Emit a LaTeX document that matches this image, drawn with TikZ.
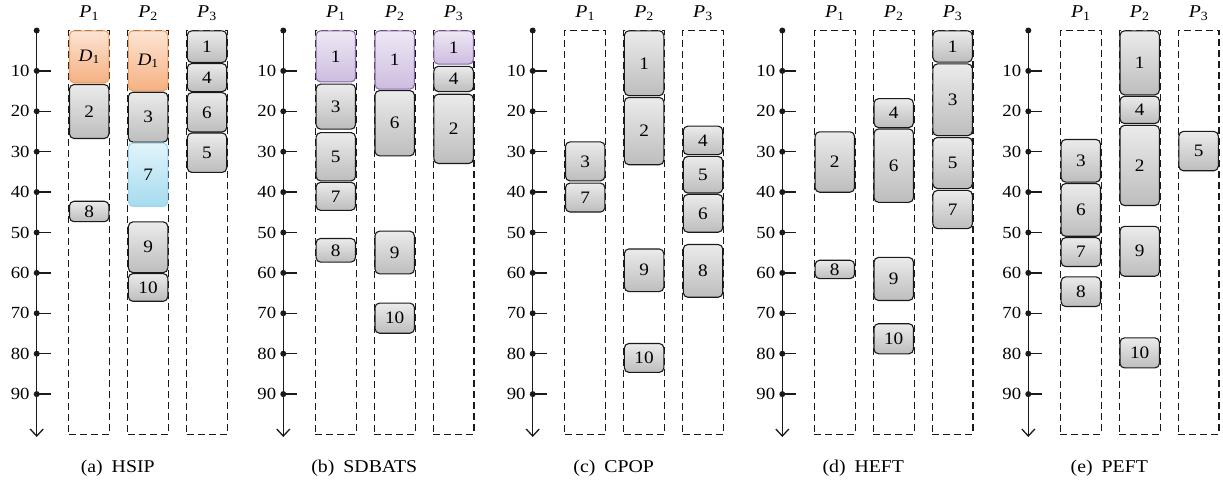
\documentclass[tikz,border=0pt]{standalone}
\usepackage{fontspec}
\setmainfont{Liberation Serif}[FakeStretch=1.1]
\usetikzlibrary{arrows.meta}

\definecolor{axisink}{HTML}{1A1A1A}
\definecolor{grayTop}{HTML}{EBEBEB}
\definecolor{grayBot}{HTML}{BDBDBD}
\definecolor{orangeTop}{HTML}{FCE4D3}
\definecolor{orangeBot}{HTML}{F6B182}
\definecolor{orangeLine}{HTML}{EFA064}
\definecolor{blueTop}{HTML}{E1F4FB}
\definecolor{blueBot}{HTML}{A6DBEF}
\definecolor{blueLine}{HTML}{9ED5EA}
\definecolor{purpleTop}{HTML}{EFE8F5}
\definecolor{purpleBot}{HTML}{CCBDDF}
\definecolor{purpleLine}{HTML}{8668A8}

\tikzset{
  timeline/.style={line width=1.4pt, draw=axisink,
    -{Straight Barb[length=7pt,width=13pt,line width=1.3pt]}},
  tickmark/.style={line width=1.3pt, draw=axisink},
  tickdot/.style={circle, fill=axisink, inner sep=0pt, minimum size=6pt},
  ticklabel/.style={anchor=east, inner sep=0pt, font=\fontsize{17}{17}\selectfont},
  proclabel/.style={inner sep=0pt, font=\fontsize{18}{18}\selectfont},
  captext/.style={inner sep=0pt, font=\fontsize{18}{18}\selectfont},
  procbox/.style={draw=axisink, dash pattern=on 7pt off 4pt, line width=1.1pt,
    inner sep=0pt, minimum width=40.8pt, minimum height=404pt},
  taskbox/.style={rounded corners=4.5pt, line width=1.1pt, inner sep=0pt,
    minimum width=39.4pt, font=\fontsize{17.5}{17.5}\selectfont},
  graytask/.style={taskbox, draw=axisink, top color=grayTop, bottom color=grayBot},
  orangetask/.style={taskbox, draw=orangeLine, top color=orangeTop, bottom color=orangeBot},
  bluetask/.style={taskbox, draw=blueLine, top color=blueTop, bottom color=blueBot},
  purpletask/.style={taskbox, draw=purpleLine, top color=purpleTop, bottom color=purpleBot},
}

% time axis, processor columns and caption of one schedule
\newcommand\schedpanel[3]{% prefix, axis x, caption
  \foreach \i in {1,2,3}{%
    \pgfmathsetmacro\cx{#2+52.5+58.9*(\i-1)}
    \node[procbox] (#1-col\i) at (\cx,232.5) {};
    \node[proclabel, anchor=base] (#1-lab\i) at (\cx,17.5) {\textit{P}\textsubscript{\i}};
  }
  \coordinate (#1-top) at (#2,30.5);
  \coordinate (#1-end) at (#2,437);
  \draw[timeline] (#1-top) -- (#1-end);
  \node[tickdot] (#1-d0) at (#1-top) {};
  \foreach \v in {10,20,...,90}{%
    \pgfmathsetmacro\yy{30.5+4.04*\v}
    \node[tickdot] (#1-d\v) at (#2,\yy) {};
    \coordinate (#1-t\v) at (#2+14,\yy);
    \draw[tickmark] (#1-d\v.center) -- (#1-t\v);
    \node[ticklabel] (#1-l\v) at (#2-7,\yy) {\v};
  }
  \node[captext, anchor=base] (#1-cap) at (#2+81,472) {#3};
}

% one task: [style]{name}{axis x}{processor}{start}{finish}{label}
\newcommand\tsk[7][graytask]{%
  \pgfmathsetmacro\tx{#3+52.5+58.9*(#4-1)}
  \pgfmathsetmacro\ty{30.5+4.04*(#5+#6)/2}
  \pgfmathsetmacro\th{4.04*(#6-#5)-0.6}
  \node[#1, minimum height=\th pt] (#2) at (\tx,\ty) {#7};
}

\begin{document}
\begin{tikzpicture}[x=1pt, y=-1pt]
\useasboundingbox (0,0) rectangle (1223,482);

% (a) HSIP
\schedpanel{a}{36.7}{(a)\enspace HSIP}
\tsk[orangetask]{a-d1p1}{36.7}{1}{0}{13}{\textit{D}\textsubscript{1}}
\tsk{a-2}{36.7}{1}{13.3}{26.8}{2}
\tsk{a-8}{36.7}{1}{42.2}{47.4}{8}
\tsk[orangetask]{a-d1p2}{36.7}{2}{0}{15}{\textit{D}\textsubscript{1}}
\tsk{a-3}{36.7}{2}{15.2}{27.7}{3}
\tsk[bluetask]{a-7}{36.7}{2}{27.8}{43.6}{7}
\tsk{a-9}{36.7}{2}{47.3}{60}{9}
\tsk{a-10}{36.7}{2}{60.1}{67.1}{10}
\tsk{a-1}{36.7}{3}{0}{8}{1}
\tsk{a-4}{36.7}{3}{8.1}{15.2}{4}
\tsk{a-6}{36.7}{3}{15.3}{25.2}{6}
\tsk{a-5}{36.7}{3}{25.3}{35.2}{5}

% (b) SDBATS
\schedpanel{b}{283.3}{(b)\enspace SDBATS}
\tsk[purpletask]{b-1p1}{283.3}{1}{0}{12.8}{1}
\tsk{b-3}{283.3}{1}{13.2}{24.5}{3}
\tsk{b-5}{283.3}{1}{25.2}{37.3}{5}
\tsk{b-7}{283.3}{1}{37.5}{44.6}{7}
\tsk{b-8}{283.3}{1}{51.4}{57.4}{8}
\tsk[purpletask]{b-1p2}{283.3}{2}{0}{14.6}{1}
\tsk{b-6}{283.3}{2}{14.8}{31.1}{6}
\tsk{b-9}{283.3}{2}{49.6}{60.3}{9}
\tsk{b-10}{283.3}{2}{67.4}{75}{10}
\tsk[purpletask]{b-1p3}{283.3}{3}{0}{8.4}{1}
\tsk{b-4}{283.3}{3}{8.8}{15.2}{4}
\tsk{b-2}{283.3}{3}{15.7}{33}{2}

% (c) CPOP
\schedpanel{c}{532.7}{(c)\enspace CPOP}
\tsk{c-3}{532.7}{1}{27.5}{37.3}{3}
\tsk{c-7}{532.7}{1}{37.7}{45}{7}
\tsk{c-1}{532.7}{2}{0}{16.2}{1}
\tsk{c-2}{532.7}{2}{16.5}{33.3}{2}
\tsk{c-9}{532.7}{2}{54}{64.7}{9}
\tsk{c-10}{532.7}{2}{77.4}{84.7}{10}
\tsk{c-4}{532.7}{3}{23.6}{30.8}{4}
\tsk{c-5}{532.7}{3}{31.1}{40.3}{5}
\tsk{c-6}{532.7}{3}{40.5}{50}{6}
\tsk{c-8}{532.7}{3}{52.9}{66.1}{8}

% (d) HEFT
\schedpanel{d}{782.3}{(d)\enspace HEFT}
\tsk{d-2}{782.3}{1}{25}{40.1}{2}
\tsk{d-8}{782.3}{1}{56.8}{61.5}{8}
\tsk{d-4}{782.3}{2}{16.8}{24.1}{4}
\tsk{d-6}{782.3}{2}{24.3}{42.6}{6}
\tsk{d-9}{782.3}{2}{56.1}{66.9}{9}
\tsk{d-10}{782.3}{2}{72.5}{80.1}{10}
\tsk{d-1}{782.3}{3}{0}{7.9}{1}
\tsk{d-3}{782.3}{3}{8.2}{26.1}{3}
\tsk{d-5}{782.3}{3}{26.4}{39.2}{5}
\tsk{d-7}{782.3}{3}{39.5}{49.1}{7}

% (e) PEFT
\schedpanel{e}{1028.3}{(e)\enspace PEFT}
\tsk{e-3}{1028.3}{1}{26.9}{37.6}{3}
\tsk{e-6}{1028.3}{1}{37.8}{51}{6}
\tsk{e-7}{1028.3}{1}{51.2}{58.5}{7}
\tsk{e-8}{1028.3}{1}{60.9}{68.4}{8}
\tsk{e-1}{1028.3}{2}{0}{16}{1}
\tsk{e-4}{1028.3}{2}{16.2}{23.1}{4}
\tsk{e-2}{1028.3}{2}{23.4}{43.4}{2}
\tsk{e-9}{1028.3}{2}{48.4}{60.9}{9}
\tsk{e-10}{1028.3}{2}{76}{83.6}{10}
\tsk{e-5}{1028.3}{3}{24.9}{34.8}{5}
\end{tikzpicture}
\end{document}
